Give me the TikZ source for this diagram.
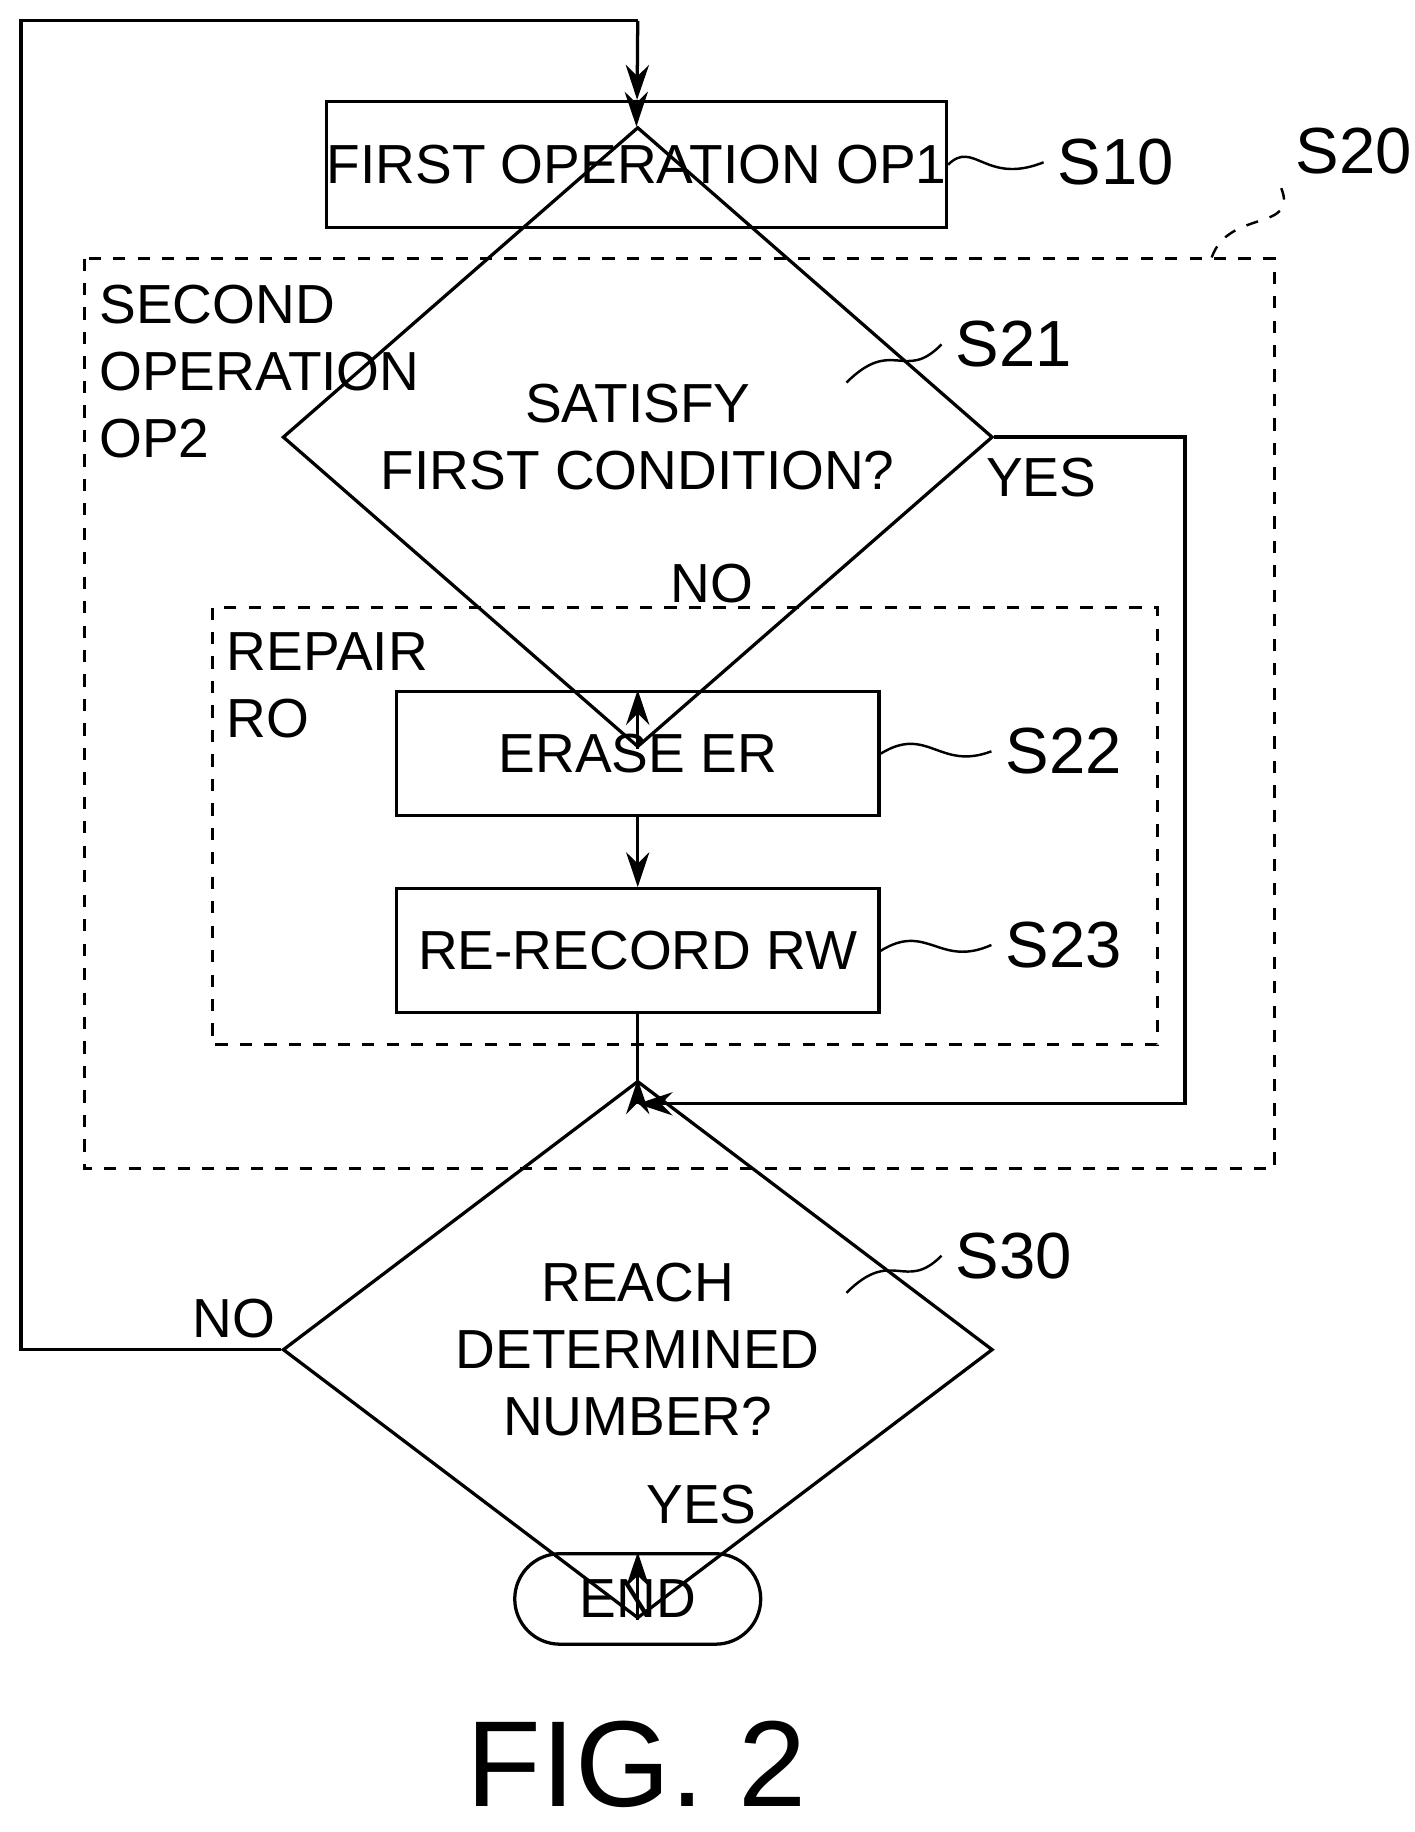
\documentclass[tikz,border=0pt]{standalone}
\usepackage{fontspec}
\setmainfont{Liberation Sans}
\usetikzlibrary{shapes.geometric,arrows.meta}

\tikzstyle{stepBox} = [rectangle, draw=black, thick, inner sep=0pt, text centered]
\tikzstyle{decision} = [diamond, draw=black, thick, inner sep=0pt, align=center]
\tikzstyle{frame} = [draw=black, dashed, thick]
\tikzstyle{arrow} = [thick,-{Stealth[length=3mm,width=2mm]}]
\tikzstyle{line} = [thick]
\tikzstyle{tag} = [font=\fontsize{16}{18}\selectfont, anchor=west]
\tikzstyle{squiggle} = [semithick]

\begin{document}
\begin{tikzpicture}[x=0.01cm,y=-0.01cm,font=\fontsize{13.5}{16.5}\selectfont]
    \useasboundingbox (0,0) rectangle (1220,1580);

    % frames
    \draw[frame] (73,223) rectangle (1099,1008);
    \draw[frame] (183,524) rectangle (998,901);
    \node (op2)[anchor=north west,align=left,inner sep=0pt] at (85,245) {SECOND\\OPERATION\\OP2};
    \node (ro)[anchor=north west,align=left,inner sep=0pt] at (195,545) {REPAIR\\RO};

    % steps
    \node (s10)[stepBox, minimum width=4.98cm, minimum height=1.09cm] at (549,142) {FIRST OPERATION OP1};
    \node (s21)[decision, minimum width=6.12cm, minimum height=2.23cm] at (550,377) {SATISFY\\FIRST CONDITION?};
    \node (s22)[stepBox, minimum width=4.16cm, minimum height=1.07cm] at (550,650) {ERASE ER};
    \node (s23)[stepBox, minimum width=4.16cm, minimum height=1.07cm] at (550,820) {RE-RECORD RW};
    \node (s30)[decision, minimum width=6.12cm, minimum height=2.24cm] at (550,1164) {REACH\\DETERMINED\\NUMBER?};
    \node (end)[rectangle, rounded corners=0.39cm, draw=black, thick, minimum width=2.12cm, minimum height=0.78cm] at (550,1379) {END};
    \coordinate (merge) at (550,952);
    \coordinate (loop) at (550,18);

    % connectors
    \draw[arrow] (s10) -- (s21);
    \draw[arrow] (s21) -- (s22);
    \draw[arrow] (s22) -- (s23);
    \draw[line] (s23) -- (merge);
    \draw[arrow] (s21.east) -| (1022,952) -- (merge);
    \draw[arrow] (merge) -- (s30);
    \draw[arrow] (s30) -- (end);
    \draw[line] (s30.west) -| (18,18) -- (loop);
    \draw[arrow] (loop) -- (s10);

    % branch labels
    \node (yes1) at (898,412) {YES};
    \node (no1) at (614,503) {NO};
    \node (no2) at (202,1137) {NO};
    \node (yes2) at (605,1298) {YES};

    % step tags
    \node (t10)[tag] at (900,140) {S10};
    \node (t20)[tag] at (1105,130) {S20};
    \node (t21)[tag] at (812,297) {S21};
    \node (t22)[tag] at (855,648) {S22};
    \node (t23)[tag] at (855,815) {S23};
    \node (t30)[tag] at (812,1083) {S30};
    \draw[squiggle] (s10.east) .. controls (840,120) and (850,160) .. (t10.west);
    \draw[squiggle,dashed] (1045,222) .. controls (1060,180) and (1120,200) .. (t20.south west);
    \draw[squiggle] (730,330) .. controls (770,290) and (780,330) .. (t21.west);
    \draw[squiggle] (s22.east) .. controls (800,625) and (810,665) .. (t22.west);
    \draw[squiggle] (s23.east) .. controls (800,795) and (810,835) .. (t23.west);
    \draw[squiggle] (730,1115) .. controls (770,1075) and (780,1115) .. (t30.west);

    \node (fig) at (549,1522) {\fontsize{30}{34}\selectfont FIG. 2};
\end{tikzpicture}
\end{document}
